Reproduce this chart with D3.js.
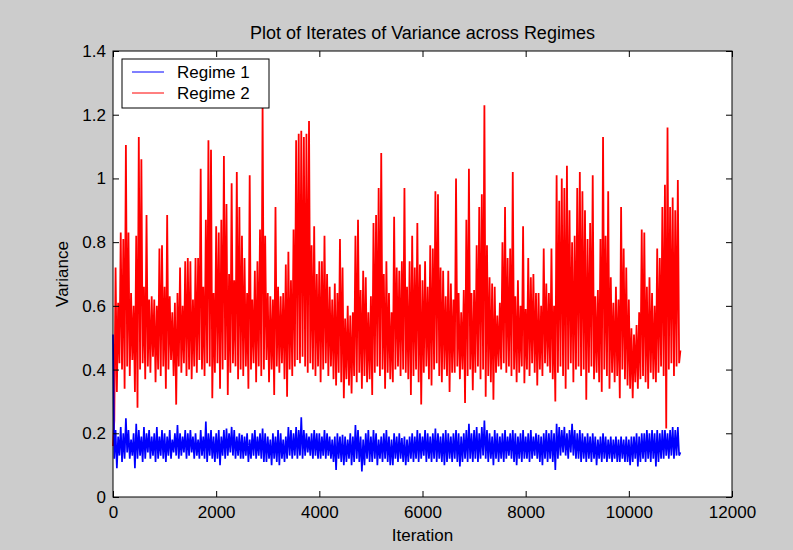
<!DOCTYPE html>
<html>
<head>
<meta charset="utf-8">
<script src="https://cdn.jsdelivr.net/npm/d3@7"></script>
<style>
  body { margin: 0; background: #cccccc; }
  svg { display: block; }
  text { font-family: "Liberation Sans", Arial, sans-serif; fill: #000; }
</style>
</head>
<body>
<svg width="793" height="550"></svg>
<script>
const iterStep = 50;

const redHigh = [
  0.16, 0.72, 0.61, 0.83, 0.81, 1.105, 0.83, 0.64, 0.60, 0.82,
  1.13, 1.06, 0.66, 0.885, 0.62, 0.63, 0.62, 0.60, 0.78, 0.79,
  0.66, 0.885, 0.63, 0.58, 0.61, 0.64, 0.72, 0.60, 0.74, 0.75,
  0.74, 0.62, 0.75, 0.75, 1.03, 0.66, 0.87, 1.12, 1.09, 0.64,
  0.85, 0.83, 0.87, 1.07, 0.92, 0.70, 0.985, 0.68, 1.02, 0.91,
  0.82, 0.75, 0.64, 1.01, 0.62, 0.71, 0.74, 0.84, 1.23, 0.82,
  0.64, 0.63, 0.62, 0.91, 0.66, 0.63, 0.64, 0.73, 0.77, 0.68,
  0.84, 1.12, 1.14, 1.15, 1.13, 1.14, 1.18, 0.79, 0.85, 0.70,
  0.74, 0.74, 0.82, 0.70, 0.66, 0.62, 0.67, 0.64, 0.81, 0.72,
  0.56, 0.60, 0.57, 0.58, 0.82, 0.87, 0.65, 0.71, 0.69, 0.58,
  0.63, 0.86, 0.885, 0.97, 1.08, 0.70, 0.74, 0.64, 0.58, 0.88,
  0.72, 0.71, 0.74, 0.97, 0.66, 0.74, 0.82, 0.72, 0.86, 0.73,
  0.68, 0.74, 0.66, 0.79, 0.78, 0.96, 0.95, 0.72, 0.71, 0.63,
  0.71, 0.67, 0.62, 1.00, 0.64, 0.58, 0.65, 0.87, 1.03, 0.64,
  0.65, 0.79, 0.91, 0.95, 1.23, 0.79, 0.69, 0.67, 0.66, 0.57,
  0.61, 0.80, 0.91, 0.75, 0.78, 1.02, 0.63, 0.68, 0.60, 0.85,
  0.59, 0.75, 0.69, 0.70, 0.64, 0.64, 0.60, 0.78, 0.67, 0.64,
  0.78, 0.60, 1.01, 0.93, 1.00, 0.97, 1.04, 0.90, 0.80, 0.82,
  0.97, 1.02, 0.96, 0.90, 0.81, 0.86, 1.01, 0.63, 0.65, 0.81,
  1.13, 0.82, 0.96, 0.69, 0.61, 0.66, 0.62, 0.91, 0.78, 0.72,
  0.62, 0.53, 0.51, 0.54, 0.58, 0.84, 0.83, 0.66, 0.69, 0.64,
  0.60, 0.78, 0.75, 0.91, 0.98, 1.16, 0.91, 0.94, 0.90, 0.995,
  0.46
];

const redLow = [
  0.24, 0.33, 0.42, 0.40, 0.34, 0.41, 0.38, 0.43, 0.33, 0.28,
  0.40, 0.42, 0.37, 0.41, 0.39, 0.44, 0.36, 0.40, 0.38, 0.41,
  0.34, 0.40, 0.43, 0.38, 0.29, 0.41, 0.39, 0.42, 0.38, 0.40,
  0.37, 0.41, 0.39, 0.43, 0.40, 0.38, 0.42, 0.41, 0.31, 0.39,
  0.42, 0.34, 0.40, 0.43, 0.32, 0.39, 0.42, 0.41, 0.37, 0.40,
  0.38, 0.41, 0.34, 0.40, 0.42, 0.36, 0.41, 0.38, 0.40, 0.43,
  0.36, 0.40, 0.32, 0.41, 0.39, 0.42, 0.37, 0.315, 0.40, 0.38,
  0.41, 0.43, 0.42, 0.44, 0.41, 0.39, 0.42, 0.40, 0.38, 0.41,
  0.36, 0.40, 0.42, 0.38, 0.41, 0.37, 0.35, 0.39, 0.36, 0.31,
  0.37, 0.35, 0.325, 0.38, 0.36, 0.39, 0.34, 0.38, 0.36, 0.37,
  0.32, 0.39, 0.41, 0.38, 0.40, 0.34, 0.39, 0.37, 0.36, 0.40,
  0.41, 0.38, 0.40, 0.39, 0.37, 0.32, 0.38, 0.40, 0.36, 0.29,
  0.39, 0.41, 0.37, 0.35, 0.40, 0.42, 0.38, 0.36, 0.40, 0.38,
  0.33, 0.39, 0.39, 0.41, 0.37, 0.40, 0.295, 0.38, 0.40, 0.335,
  0.39, 0.41, 0.37, 0.40, 0.315, 0.38, 0.36, 0.305, 0.39, 0.41,
  0.40, 0.42, 0.39, 0.41, 0.38, 0.40, 0.36, 0.39, 0.41, 0.357,
  0.40, 0.38, 0.42, 0.39, 0.35, 0.40, 0.38, 0.42, 0.41, 0.39,
  0.37, 0.30, 0.39, 0.41, 0.38, 0.34, 0.40, 0.42, 0.36, 0.40,
  0.41, 0.38, 0.40, 0.305, 0.39, 0.41, 0.37, 0.39, 0.36, 0.33,
  0.40, 0.38, 0.34, 0.39, 0.36, 0.38, 0.31, 0.40, 0.37, 0.35,
  0.34, 0.31, 0.36, 0.34, 0.37, 0.38, 0.36, 0.34, 0.39, 0.37,
  0.36, 0.39, 0.41, 0.38, 0.215, 0.40, 0.42, 0.38, 0.41, 0.42
];

const blueHigh = [
  0.51, 0.21, 0.19, 0.22, 0.20, 0.247, 0.21, 0.18, 0.20, 0.23,
  0.21, 0.19, 0.22, 0.20, 0.21, 0.19, 0.20, 0.22, 0.19, 0.21,
  0.20, 0.19, 0.21, 0.18, 0.20, 0.226, 0.20, 0.19, 0.21, 0.20,
  0.21, 0.19, 0.20, 0.18, 0.21, 0.19, 0.237, 0.20, 0.21, 0.19,
  0.20, 0.21, 0.19, 0.21, 0.215, 0.20, 0.22, 0.21, 0.19, 0.20,
  0.195, 0.19, 0.20, 0.18, 0.20, 0.21, 0.19, 0.20, 0.215, 0.20,
  0.19, 0.18, 0.20, 0.19, 0.21, 0.20, 0.18, 0.19, 0.22, 0.21,
  0.20, 0.22, 0.21, 0.25, 0.21, 0.20, 0.19, 0.20, 0.21, 0.20,
  0.20, 0.19, 0.21, 0.20, 0.19, 0.18, 0.19, 0.20, 0.19, 0.195,
  0.19, 0.18, 0.20, 0.19, 0.226, 0.21, 0.19, 0.18, 0.20, 0.21,
  0.19, 0.21, 0.20, 0.18, 0.19, 0.20, 0.21, 0.19, 0.18, 0.20,
  0.19, 0.20, 0.185, 0.19, 0.18, 0.19, 0.20, 0.19, 0.21, 0.20,
  0.19, 0.21, 0.20, 0.19, 0.20, 0.215, 0.20, 0.19, 0.20, 0.21,
  0.20, 0.19, 0.20, 0.21, 0.20, 0.19, 0.20, 0.21, 0.23, 0.20,
  0.21, 0.22, 0.20, 0.22, 0.24, 0.21, 0.20, 0.19, 0.21, 0.20,
  0.19, 0.20, 0.21, 0.19, 0.20, 0.21, 0.20, 0.19, 0.20, 0.21,
  0.19, 0.20, 0.21, 0.19, 0.20, 0.195, 0.19, 0.20, 0.21, 0.20,
  0.21, 0.20, 0.23, 0.22, 0.21, 0.22, 0.20, 0.21, 0.23, 0.21,
  0.20, 0.21, 0.20, 0.19, 0.20, 0.19, 0.20, 0.19, 0.18, 0.19,
  0.20, 0.19, 0.18, 0.19, 0.18, 0.19, 0.18, 0.19, 0.18, 0.19,
  0.18, 0.19, 0.19, 0.20, 0.19, 0.20, 0.20, 0.21, 0.20, 0.21,
  0.20, 0.21, 0.20, 0.21, 0.21, 0.20, 0.21, 0.22, 0.21, 0.22,
  0.14
];

const blueLow = [
  0.12, 0.09, 0.13, 0.11, 0.12, 0.14, 0.12, 0.13, 0.09, 0.12,
  0.13, 0.11, 0.12, 0.14, 0.12, 0.13, 0.11, 0.12, 0.13, 0.12,
  0.11, 0.13, 0.12, 0.14, 0.13, 0.12, 0.13, 0.14, 0.12, 0.13,
  0.14, 0.12, 0.13, 0.12, 0.13, 0.12, 0.11, 0.13, 0.12, 0.11,
  0.12, 0.10, 0.13, 0.12, 0.13, 0.14, 0.13, 0.12, 0.13, 0.12,
  0.12, 0.13, 0.11, 0.12, 0.13, 0.12, 0.13, 0.12, 0.11, 0.11,
  0.12, 0.10, 0.12, 0.11, 0.10, 0.12, 0.11, 0.12, 0.13, 0.12,
  0.13, 0.12, 0.13, 0.12, 0.13, 0.14, 0.13, 0.12, 0.13, 0.12,
  0.12, 0.13, 0.12, 0.13, 0.12, 0.11, 0.085, 0.12, 0.11, 0.10,
  0.11, 0.12, 0.10, 0.11, 0.12, 0.11, 0.08, 0.10, 0.12, 0.11,
  0.11, 0.12, 0.10, 0.12, 0.11, 0.12, 0.11, 0.10, 0.10, 0.12,
  0.11, 0.12, 0.11, 0.10, 0.11, 0.12, 0.11, 0.12, 0.11, 0.12,
  0.13, 0.11, 0.12, 0.11, 0.12, 0.11, 0.12, 0.11, 0.10, 0.11,
  0.12, 0.11, 0.12, 0.11, 0.096, 0.11, 0.12, 0.11, 0.12, 0.11,
  0.12, 0.11, 0.12, 0.13, 0.12, 0.11, 0.12, 0.10, 0.12, 0.11,
  0.12, 0.11, 0.12, 0.13, 0.12, 0.11, 0.10, 0.12, 0.11, 0.12,
  0.12, 0.11, 0.12, 0.13, 0.12, 0.11, 0.10, 0.12, 0.11, 0.12,
  0.11, 0.085, 0.12, 0.13, 0.14, 0.13, 0.12, 0.14, 0.13, 0.12,
  0.12, 0.11, 0.12, 0.11, 0.12, 0.11, 0.12, 0.10, 0.12, 0.11,
  0.12, 0.11, 0.12, 0.11, 0.12, 0.11, 0.11, 0.12, 0.11, 0.11,
  0.10, 0.11, 0.12, 0.096, 0.11, 0.12, 0.11, 0.12, 0.11, 0.12,
  0.096, 0.11, 0.12, 0.12, 0.13, 0.12, 0.13, 0.12, 0.13, 0.13
];

const xTicks = [0, 2000, 4000, 6000, 8000, 10000, 12000];
const xTickLabels = ["0", "2000", "4000", "6000", "8000", "10000", "12000"];
const yTicks = [0, 0.2, 0.4, 0.6, 0.8, 1, 1.2, 1.4];
const yTickLabels = ["0", "0.2", "0.4", "0.6", "0.8", "1", "1.2", "1.4"];
const seriesNames = ["Regime 1", "Regime 2"];
const seriesColors = ["#0000ff", "#ff0000"];

const svg = d3.select("svg");
const plotLeft = 113, plotRight = 732, plotTop = 51, plotBottom = 497;

const x = d3.scaleLinear().domain([0, 12000]).range([plotLeft, plotRight]);
const y = d3.scaleLinear().domain([0, 1.4]).range([plotBottom, plotTop]);

// turn high/low pairs into one zig-zag trace
const trace = (hi, lo) => {
  const pts = [];
  hi.forEach((h, k) => {
    pts.push([k * iterStep, h]);
    if (k < lo.length) pts.push([k * iterStep + iterStep / 2, lo[k]]);
  });
  return pts;
};

svg.append("rect")
    .attr("x", plotLeft).attr("y", plotTop)
    .attr("width", plotRight - plotLeft).attr("height", plotBottom - plotTop)
    .attr("fill", "#fff");

const line = d3.line().x(d => x(d[0])).y(d => y(d[1]));

svg.append("path")
    .datum(trace(redHigh, redLow))
    .attr("d", line)
    .attr("fill", "none")
    .attr("stroke", seriesColors[1])
    .attr("stroke-width", 1.8)
    .attr("stroke-linejoin", "miter")
    .attr("stroke-miterlimit", 2);

svg.append("path")
    .datum(trace(blueHigh, blueLow))
    .attr("d", line)
    .attr("fill", "none")
    .attr("stroke", seriesColors[0])
    .attr("stroke-width", 1.7)
    .attr("stroke-linejoin", "miter")
    .attr("stroke-miterlimit", 2);

// axes, ticks pointing inward like matlab
const fs = "17px";
svg.append("g")
    .attr("transform", `translate(0,${plotBottom})`)
    .call(d3.axisBottom(x).tickValues(xTicks).tickFormat((d, i) => xTickLabels[i])
      .tickSizeInner(-6).tickSizeOuter(0).tickPadding(9));
svg.append("g")
    .attr("transform", `translate(${plotLeft},0)`)
    .call(d3.axisLeft(y).tickValues(yTicks).tickFormat((d, i) => yTickLabels[i])
      .tickSizeInner(-6).tickSizeOuter(0).tickPadding(7));
svg.append("g")
    .attr("transform", `translate(0,${plotTop})`)
    .call(d3.axisTop(x).tickValues(xTicks).tickFormat("").tickSizeInner(-6).tickSizeOuter(0));
svg.append("g")
    .attr("transform", `translate(${plotRight},0)`)
    .call(d3.axisRight(y).tickValues(yTicks).tickFormat("").tickSizeInner(-6).tickSizeOuter(0));

svg.selectAll(".domain").remove();
svg.selectAll(".tick line").attr("stroke", "#000");
svg.selectAll(".tick text")
    .style("font-size", fs)
    .style("font-family", '"Liberation Sans", Arial, sans-serif')
    .attr("fill", "#000");

svg.append("rect")
    .attr("x", plotLeft).attr("y", plotTop)
    .attr("width", plotRight - plotLeft).attr("height", plotBottom - plotTop)
    .attr("fill", "none")
    .attr("stroke", "#000");

svg.append("text")
    .attr("x", (plotLeft + plotRight) / 2).attr("y", 39)
    .attr("text-anchor", "middle")
    .style("font-size", "18px")
    .text("Plot of Iterates of Variance across Regimes");

svg.append("text")
    .attr("x", (plotLeft + plotRight) / 2).attr("y", 541)
    .attr("text-anchor", "middle")
    .style("font-size", fs)
    .text("Iteration");

svg.append("text")
    .attr("transform", `translate(68,${(plotTop + plotBottom) / 2}) rotate(-90)`)
    .attr("text-anchor", "middle")
    .style("font-size", fs)
    .text("Variance");

// legend
const legend = svg.append("g").attr("transform", "translate(122,59)");
legend.append("rect")
    .attr("width", 147).attr("height", 49)
    .attr("fill", "#fff").attr("stroke", "#000");
const item = legend.selectAll("g.item").data(seriesNames).enter().append("g")
    .attr("class", "item")
    .attr("transform", (d, i) => `translate(0,${13 + i * 21})`);
item.append("line")
    .attr("x1", 10).attr("x2", 42)
    .attr("stroke", (d, i) => seriesColors[i]);
item.append("text")
    .attr("x", 55).attr("y", 6)
    .style("font-size", fs)
    .text(d => d);
</script>
</body>
</html>
